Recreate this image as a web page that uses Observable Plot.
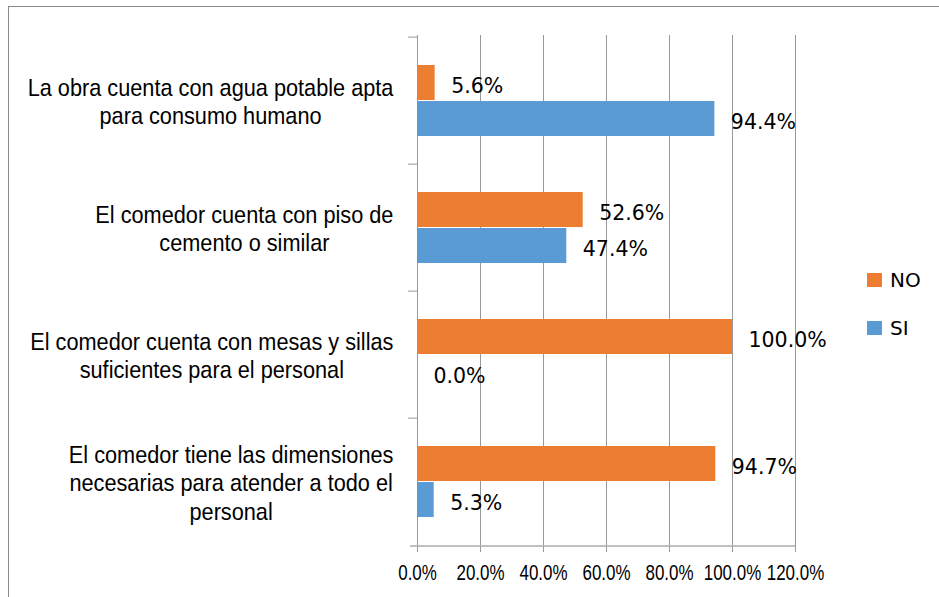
<!DOCTYPE html>
<html><head><meta charset="utf-8">
<script src="https://cdn.jsdelivr.net/npm/d3@7"></script>
<script src="https://cdn.jsdelivr.net/npm/@observablehq/plot@0.6"></script>
<style>
body{margin:0;background:#fff;}
#wrap{position:relative;width:939px;height:597px;overflow:hidden;background:#fff;}
#wrap svg{position:absolute;left:0;top:0;}
#border{position:absolute;left:8px;top:6px;width:1000px;height:1000px;border-left:1.5px solid #8a8a8a;border-top:1.5px solid #8a8a8a;}
.legend{position:absolute;left:867px;height:24px;display:flex;align-items:center;font-family:"DejaVu Sans";font-size:20px;color:#000;}
.sw{width:15px;height:14px;margin-right:8px;}
</style></head><body><div id="wrap"><div id="border"></div></div>
<script>
const categories = [
  "La obra cuenta con agua potable apta\npara consumo humano",
  "El comedor cuenta con piso de\ncemento o similar",
  "El comedor cuenta con mesas y sillas\nsuficientes para el personal",
  "El comedor tiene las dimensiones\nnecesarias para atender a todo el\npersonal"
];
const seriesNames = ["NO", "SI"];
const seriesColors = ["#ED7D31", "#5B9BD5"];
const noValues = [5.6, 52.6, 100.0, 94.7];
const siValues = [94.4, 47.4, 0.0, 5.3];
const xTicks = [0, 20, 40, 60, 80, 100, 120];

const W = 939, H = 597;
const mL = 417, mR = 144, mT = 35, mB = 51;
const innerW = W - mL - mR;
const step = (H - mT - mB) / categories.length;
const catScaleX = 0.905;   // horizontal condensing of the category labels
const tickScaleX = 0.77;   // horizontal condensing of the x tick labels

const noRows = categories.map((c, i) => ({cat: c, series: seriesNames[0], value: noValues[i]}));
const siRows = categories.map((c, i) => ({cat: c, series: seriesNames[1], value: siValues[i]}));

const ctx = document.createElement("canvas").getContext("2d");
ctx.font = "24px 'Liberation Sans'";
const labelMarks = categories.map(c => {
  const w = d3.max(c.split("\n"), s => ctx.measureText(s).width) * catScaleX;
  return Plot.text([c], {y: d => d, frameAnchor: "left", dx: -24 - w / 2, dy: 0, textAnchor: "middle",
    lineHeight: 28.5 / 24, fontSize: 24, fontFamily: "Liberation Sans", fill: "#000", className: "catlabel"});
});

const fmt = v => v.toFixed(1) + "%";

const chart = Plot.plot({
  width: W, height: H,
  marginLeft: mL, marginRight: mR, marginTop: mT, marginBottom: mB,
  style: {background: "transparent", color: "#000"},
  x: {domain: [0, 120]},
  y: {type: "band", domain: categories, padding: 0, axis: null},
  marks: [
    Plot.gridX(xTicks, {stroke: "#999", strokeOpacity: 1, strokeWidth: 1}),
    Plot.barX(noRows, {x: "value", y: "cat", fill: seriesColors[0], insetTop: 28, insetBottom: 64}),
    Plot.barX(siRows, {x: "value", y: "cat", fill: seriesColors[1], insetTop: 64, insetBottom: 28}),
    Plot.ruleY(categories, {y: d => d, dy: -step / 2, stroke: "#999", insetLeft: -9, insetRight: innerW}),
    Plot.ruleY([categories[categories.length - 1]], {y: d => d, dy: step / 2, stroke: "#c0c0c0", strokeWidth: 2, insetLeft: -7}),
    Plot.axisX(xTicks, {tickSize: 6, tickPadding: 11.5, tickFormat: fmt, stroke: "#999", fill: "#000",
      fontSize: 22, fontFamily: "Liberation Sans", label: null}),
    ...labelMarks,
    Plot.text(noRows, {x: "value", y: "cat", text: d => fmt(d.value), dx: 16, dy: -15, textAnchor: "start",
      fontSize: 20.5, fontFamily: "DejaVu Sans", fill: "#000"}),
    Plot.text(siRows, {x: "value", y: "cat", text: d => fmt(d.value), dx: 16, dy: 21, textAnchor: "start",
      fontSize: 20.5, fontFamily: "DejaVu Sans", fill: "#000"})
  ]
});
const wrap = document.getElementById("wrap");
wrap.appendChild(chart);

// condense text horizontally around its anchor point
function condense(textEl, sx) {
  const t = textEl.getAttribute("transform");
  if (t) {
    textEl.setAttribute("transform", t + ` scale(${sx},1)`);
  } else {
    const x = +(textEl.getAttribute("x") || 0), y = +(textEl.getAttribute("y") || 0);
    textEl.setAttribute("transform", `translate(${x},${y}) scale(${sx},1) translate(${-x},${-y})`);
  }
}
chart.querySelectorAll('g[aria-label="x-axis tick label"] text').forEach(t => condense(t, tickScaleX));
chart.querySelectorAll('g.catlabel text').forEach(t => condense(t, catScaleX));

const legendTops = [267.5, 315.5];
seriesNames.forEach((s, i) => {
  const d = document.createElement("div");
  d.className = "legend";
  d.style.top = legendTops[i] + "px";
  d.innerHTML = `<div class="sw" style="background:${seriesColors[i]}"></div><span>${s}</span>`;
  wrap.appendChild(d);
});
</script></body></html>
